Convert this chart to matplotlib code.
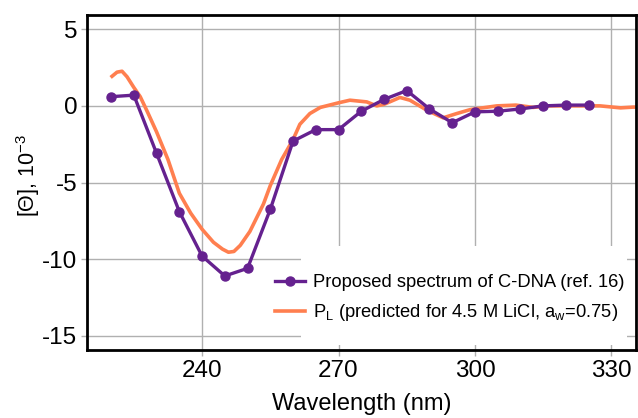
import matplotlib
matplotlib.use("Agg")
import matplotlib.pyplot as plt
from matplotlib.patches import Rectangle

plt.rcParams['font.family'] = ['Liberation Sans', 'DejaVu Sans']
plt.rcParams['axes.unicode_minus'] = False
plt.rcParams['mathtext.fontset'] = 'custom'
plt.rcParams['mathtext.rm'] = 'Liberation Sans'

# Proposed spectrum of C-DNA (ref. 16)
wl_cdna = [220, 225, 230, 235, 240, 245, 250, 255, 260, 265, 270, 275, 280,
           285, 290, 295, 300, 305, 310, 315, 320, 325]
theta_cdna = [0.6, 0.7, -3.1, -6.9, -9.8, -11.1, -10.6, -6.75, -2.3, -1.55, -1.55,
              -0.35, 0.42, 1.0, -0.2, -1.1, -0.39, -0.35, -0.2, 0.0, 0.05, 0.05]

# P_L predicted curve
wl_pl = [220.2, 221.3, 222.4, 223.5, 225.0, 226.4, 228.0, 230.0, 232.5, 235.0,
         237.5, 240.0, 242.5, 244.5, 245.8, 247.0, 248.4, 250.5, 253.5, 255.0,
         257.5, 260.0, 261.5, 263.7, 266.0, 268.0, 270.0, 272.5, 276.2, 278.4,
         280.0, 283.5, 285.7, 289.4, 293.0, 296.0, 299.0, 304.8, 309.0, 312.8,
         316.0, 320.0, 324.0, 327.5, 332.0, 334.8, 336.0]
theta_pl = [1.93, 2.2, 2.26, 1.9, 1.2, 0.6, -0.4, -1.7, -3.5, -5.7,
            -7.0, -8.05, -8.9, -9.35, -9.55, -9.5, -9.1, -8.2, -6.4, -5.2,
            -3.5, -2.2, -1.2, -0.5, -0.1, 0.05, 0.2, 0.37, 0.26, 0.0,
            0.1, 0.55, 0.37, -0.28, -0.78, -0.5, -0.24, 0.0, 0.05, -0.1,
            0.0, 0.0, 0.0, 0.0, -0.13, -0.08, -0.08]

x_ticks = [240, 270, 300, 330]
y_ticks = [5, 0, -5, -10, -15]

purple = '#65218f'
orange = '#ff7f4f'

W, H = 638, 418
L, R, T, B = 87, 636, 15, 350
fig = plt.figure(figsize=(W/100, H/100), dpi=100)
ax = fig.add_axes([L/W, 1-B/H, (R-L)/W, (B-T)/H])

def ax_x(px):
    return (px - L) / (R - L)

def ax_y(py):
    return (B - py) / (B - T)

ax.plot(wl_cdna, theta_cdna, color=purple, lw=2.4, marker='o', ms=6.5,
        label='Proposed spectrum of C-DNA (ref. 16)', zorder=3)
ax.plot(wl_pl, theta_pl, color=orange, lw=2.6,
        label=r'P$_\mathregular{L}$ (predicted for 4.5 M LiCl, a$_\mathregular{w}$=0.75)', zorder=2)

ax.set_xlim(214.7, 335.4)
ax.set_ylim(-15.93, 5.93)
ax.set_xticks(x_ticks)
ax.set_yticks(y_ticks)
ax.grid(True, color='#b0b0b0', lw=1.0, zorder=0)
ax.set_axisbelow(True)
ax.tick_params(axis='both', labelsize=17.5, color='#b0b0b0', length=4, width=1, pad=3)
for s in ax.spines.values():
    s.set_linewidth(2)
    s.set_color('black')

# white legend background box
ax.add_patch(Rectangle((ax_x(301), ax_y(345)), ax_x(627) - ax_x(301), ax_y(246) - ax_y(345),
                       transform=ax.transAxes, facecolor='white', edgecolor='none', zorder=1))

ax.set_xlabel('Wavelength (nm)', fontsize=17, labelpad=8)
ax.set_ylabel(r'[Θ], 10$^\mathregular{-3}$', fontsize=15.5)
ax.yaxis.set_label_coords(-0.082, 0.522)

leg = ax.legend(loc='center left', bbox_to_anchor=(ax_x(275), ax_y(298.5)),
                fontsize=13.2, frameon=False, borderaxespad=0, borderpad=0,
                handlelength=1.64, handletextpad=0.44, labelspacing=0.6)
leg.set_zorder(4)

fig.savefig('out.png', dpi=100)
